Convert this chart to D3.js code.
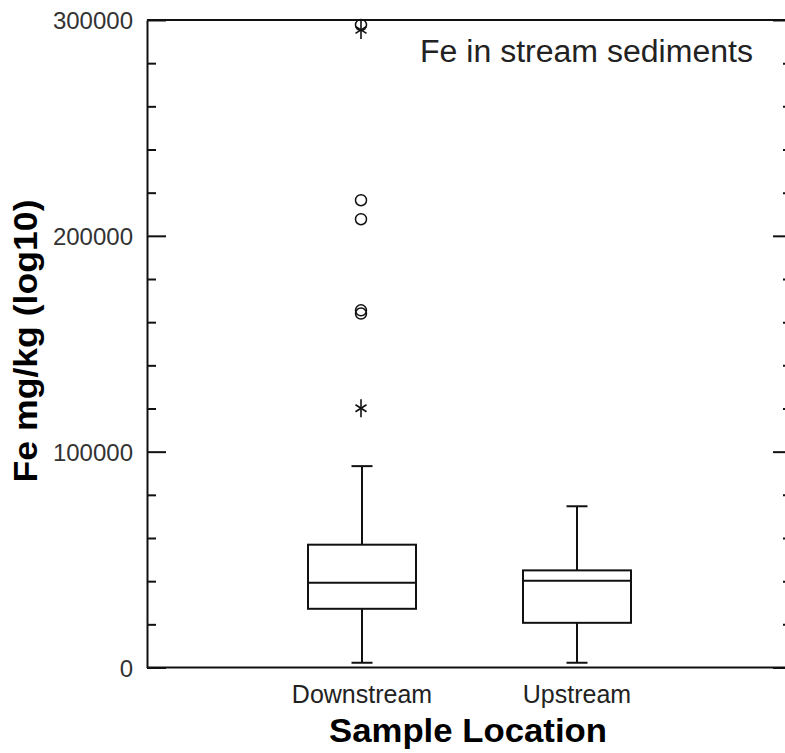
<!DOCTYPE html>
<html>
<head>
<meta charset="utf-8">
<script src="https://cdn.jsdelivr.net/npm/d3@7"></script>
<style>
  html, body { margin: 0; padding: 0; background: #fff; }
  svg { display: block; }
</style>
</head>
<body>
<svg id="chart" width="785" height="753"></svg>
<script>
// ---- data ----
const categories = ["Downstream", "Upstream"];
const whiskerLow  = [2200, 2200];
const q1          = [27200, 20700];
const median      = [39300, 40200];
const q3          = [56900, 45000];
const whiskerHigh = [93300, 74700];
// outliers (all in Downstream)
const circleOutlierCat = ["Downstream", "Downstream", "Downstream", "Downstream", "Downstream"];
const circleOutliers   = [297700, 216500, 207700, 165500, 164000];
const starOutlierCat   = ["Downstream", "Downstream"];
const starOutliers     = [295400, 120100];
const majorTicks = [0, 100000, 200000, 300000];
const minorTicks = [20000, 40000, 60000, 80000, 120000, 140000, 160000, 180000, 220000, 240000, 260000, 280000];
const yTitle = "Fe mg/kg (log10)";
const xTitle = "Sample Location";
const chartTitle = "Fe in stream sediments";

// ---- layout ----
const svg = d3.select("#chart");
const mLeft = 147, mRight = 792, mTop = 20, mBottom = 667.5;

const x = d3.scalePoint().domain(categories).range([mLeft, mRight]).padding(1);
const y = d3.scaleLinear().domain([0, 300000]).range([mBottom, mTop]);

const ink = "#111";
const g = svg.append("g");

// frame lines (top & bottom run to the image edge)
g.append("line").attr("x1", mLeft).attr("x2", 785).attr("y1", y(300000)).attr("y2", y(300000))
  .attr("stroke", ink).attr("stroke-width", 2);
g.append("line").attr("x1", mLeft).attr("x2", 785).attr("y1", y(0)).attr("y2", y(0))
  .attr("stroke", ink).attr("stroke-width", 2);

// left axis – major
const yAxisMajor = d3.axisLeft(y).tickValues(majorTicks).tickSizeInner(-19).tickSizeOuter(0)
  .tickPadding(14).tickFormat(d3.format("d"));
const gl = g.append("g").attr("transform", `translate(${mLeft},0)`).call(yAxisMajor);
gl.select(".domain").attr("stroke", ink).attr("stroke-width", 2);
gl.selectAll(".tick line").attr("stroke", ink).attr("stroke-width", 2);
gl.selectAll(".tick text").attr("font-family", "'Liberation Sans', Arial, sans-serif")
  .attr("font-size", 24).attr("fill", "#333").attr("dy", "0.36em");

// left axis – minor
const gm = g.append("g").attr("transform", `translate(${mLeft},0)`)
  .call(d3.axisLeft(y).tickValues(minorTicks).tickSizeInner(-9).tickSizeOuter(0).tickFormat(""));
gm.select(".domain").remove();
gm.selectAll(".tick line").attr("stroke", ink).attr("stroke-width", 2);

// right axis (line itself lies just beyond the image edge)
const gr = g.append("g").attr("transform", `translate(${mRight},0)`)
  .call(d3.axisRight(y).tickValues(majorTicks).tickSizeInner(-19).tickSizeOuter(0).tickFormat(""));
gr.select(".domain").attr("stroke", ink).attr("stroke-width", 2);
gr.selectAll(".tick line").attr("stroke", ink).attr("stroke-width", 2);
const grm = g.append("g").attr("transform", `translate(${mRight},0)`)
  .call(d3.axisRight(y).tickValues(minorTicks).tickSizeInner(-9).tickSizeOuter(0).tickFormat(""));
grm.select(".domain").remove();
grm.selectAll(".tick line").attr("stroke", ink).attr("stroke-width", 2);

// category labels
g.selectAll(".cat").data(categories).join("text")
  .attr("class", "cat")
  .attr("x", d => x(d)).attr("y", 703)
  .attr("text-anchor", "middle")
  .attr("font-family", "'Liberation Sans', Arial, sans-serif")
  .attr("font-size", 25).attr("fill", "#222")
  .text(d => d);

// ---- box plots ----
const boxHalf = 54, capHalf = 10.5;
const boxes = categories.map((c, i) => ({
  c, lo: whiskerLow[i], q1: q1[i], med: median[i], q3: q3[i], hi: whiskerHigh[i]
}));
const bg = g.selectAll(".box").data(boxes).join("g").attr("class", "box")
  .attr("stroke", ink).attr("stroke-width", 2).attr("fill", "none");
bg.append("line").attr("x1", d => x(d.c)).attr("x2", d => x(d.c))
  .attr("y1", d => y(d.hi)).attr("y2", d => y(d.q3));
bg.append("line").attr("x1", d => x(d.c)).attr("x2", d => x(d.c))
  .attr("y1", d => y(d.q1)).attr("y2", d => y(d.lo));
bg.append("line").attr("x1", d => x(d.c) - capHalf).attr("x2", d => x(d.c) + capHalf)
  .attr("y1", d => y(d.hi)).attr("y2", d => y(d.hi));
bg.append("line").attr("x1", d => x(d.c) - capHalf).attr("x2", d => x(d.c) + capHalf)
  .attr("y1", d => y(d.lo)).attr("y2", d => y(d.lo));
bg.append("rect").attr("x", d => x(d.c) - boxHalf).attr("width", boxHalf * 2)
  .attr("y", d => y(d.q3)).attr("height", d => y(d.q1) - y(d.q3));
bg.append("line").attr("x1", d => x(d.c) - boxHalf).attr("x2", d => x(d.c) + boxHalf)
  .attr("y1", d => y(d.med)).attr("y2", d => y(d.med));

// outliers: circles
g.selectAll(".circ").data(circleOutliers).join("circle")
  .attr("class", "circ")
  .attr("cx", (d, i) => x(circleOutlierCat[i]) - 1)
  .attr("cy", d => y(d))
  .attr("r", 5.5).attr("fill", "none").attr("stroke", ink).attr("stroke-width", 1.5);

// outliers: asterisks
const star = g.selectAll(".star").data(starOutliers).join("g")
  .attr("class", "star")
  .attr("transform", (d, i) => `translate(${x(starOutlierCat[i]) - 1},${y(d)})`)
  .attr("stroke", ink).attr("stroke-width", 1.6);
star.append("line").attr("x1", 0).attr("x2", 0).attr("y1", -9).attr("y2", 9);
star.append("line").attr("x1", -5.5).attr("x2", 5.5).attr("y1", -3.5).attr("y2", 3.5);
star.append("line").attr("x1", -5.5).attr("x2", 5.5).attr("y1", 3.5).attr("y2", -3.5);

// titles
svg.append("text")
  .attr("x", 420).attr("y", 62)
  .attr("font-family", "'Liberation Sans', Arial, sans-serif")
  .attr("font-size", 31).attr("fill", "#222")
  .attr("textLength", 333).attr("lengthAdjust", "spacingAndGlyphs")
  .text(chartTitle);

svg.append("text")
  .attr("x", 468).attr("y", 742)
  .attr("text-anchor", "middle")
  .attr("font-family", "'Liberation Sans', Arial, sans-serif")
  .attr("font-weight", "bold")
  .attr("font-size", 33).attr("fill", "#000")
  .attr("textLength", 278).attr("lengthAdjust", "spacingAndGlyphs")
  .text(xTitle);

svg.append("text")
  .attr("transform", `translate(37,341) rotate(-90)`)
  .attr("text-anchor", "middle")
  .attr("font-family", "'Liberation Sans', Arial, sans-serif")
  .attr("font-weight", "bold")
  .attr("font-size", 33).attr("fill", "#000")
  .attr("textLength", 283).attr("lengthAdjust", "spacingAndGlyphs")
  .text(yTitle);
</script>
</body>
</html>
